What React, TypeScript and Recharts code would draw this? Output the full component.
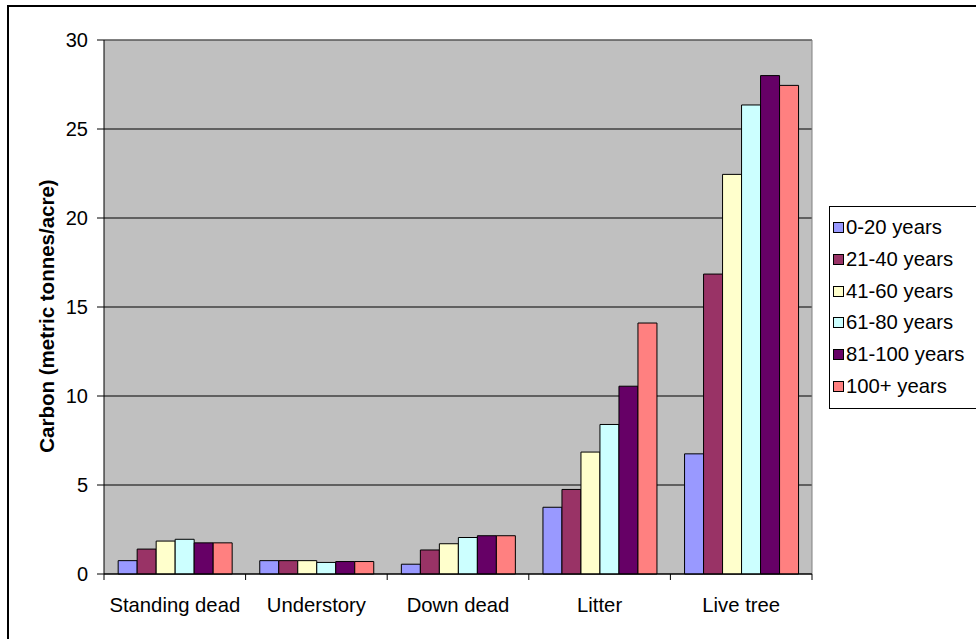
import {
  BarChart,
  Bar,
  XAxis,
  YAxis,
  CartesianGrid,
  Legend,
  Label,
} from 'recharts';

// Carbon pools by stand age class
const categories = ['Standing dead', 'Understory', 'Down dead', 'Litter', 'Live tree'];
const ageClasses = ['0-20 years', '21-40 years', '41-60 years', '61-80 years', '81-100 years', '100+ years'];

const age0to20 = [0.75, 0.75, 0.55, 3.75, 6.75];
const age21to40 = [1.4, 0.75, 1.35, 4.75, 16.85];
const age41to60 = [1.85, 0.75, 1.7, 6.85, 22.45];
const age61to80 = [1.95, 0.65, 2.05, 8.4, 26.35];
const age81to100 = [1.75, 0.7, 2.15, 10.55, 28.0];
const age100plus = [1.75, 0.7, 2.15, 14.1, 27.45];

const yTicks = [0, 5, 10, 15, 20, 25, 30];

const seriesValues = [age0to20, age21to40, age41to60, age61to80, age81to100, age100plus];
const colors = ['#9999FF', '#993366', '#FFFFCC', '#CCFFFF', '#660066', '#FF8080'];

const chartData = categories.map((name, i) => {
  const row: Record<string, string | number> = { name };
  ageClasses.forEach((age, s) => {
    row[age] = seriesValues[s][i];
  });
  return row;
});

const FONT = '"Liberation Sans", Arial, sans-serif';
const WIDTH = 967;
const HEIGHT = 632;
const MARGIN = { top: 33, right: 164, bottom: 25, left: 0 };
const Y_WIDTH = 95;
const bandWidth = (WIDTH - MARGIN.right - MARGIN.left - Y_WIDTH) / categories.length;

// Excel-style category tick: marks sit between categories, label centered
const CategoryTick = (props: any) => {
  const { x, y, payload, index } = props;
  const half = bandWidth / 2;
  return (
    <g>
      <line x1={x - half} y1={y} x2={x - half} y2={y + 6} stroke="#000" />
      {index === categories.length - 1 && (
        <line x1={x + half} y1={y} x2={x + half} y2={y + 6} stroke="#000" />
      )}
      <text x={x} y={y + 38} textAnchor="middle" fontSize={20.3} fontFamily={FONT} fill="#000">
        {payload.value}
      </text>
    </g>
  );
};

const LegendBox = () => (
  <div
    style={{
      width: 150,
      height: 203,
      boxSizing: 'border-box',
      border: '1px solid #000',
      background: '#fff',
      paddingTop: 5,
      fontFamily: FONT,
      fontSize: 20.3,
      color: '#000',
    }}
  >
    {ageClasses.map((age, i) => (
      <div key={age} style={{ height: 31.7, display: 'flex', alignItems: 'center' }}>
        <span
          style={{
            display: 'inline-block',
            width: 9,
            height: 9,
            marginLeft: 3,
            marginRight: 2,
            border: '1px solid #000',
            background: colors[i],
          }}
        />
        <span style={{ whiteSpace: 'nowrap' }}>{age}</span>
      </div>
    ))}
  </div>
);

export default function App() {
  return (
    <div
      style={{
        position: 'absolute',
        left: 7,
        top: 5,
        width: 969,
        height: 634,
        boxSizing: 'border-box',
        borderLeft: '2px solid #000',
        borderTop: '2px solid #000',
        overflow: 'hidden',
        background: '#fff',
      }}
    >
      <BarChart
        width={WIDTH}
        height={HEIGHT}
        data={chartData}
        margin={MARGIN}
        barCategoryGap="10%"
        barGap={0}
      >
        <CartesianGrid vertical={false} fill="#C0C0C0" stroke="#000" />
        <CartesianGrid
          horizontalPoints={[MARGIN.top]}
          verticalPoints={[WIDTH - MARGIN.right]}
          stroke="#808080"
        />
        <XAxis
          dataKey="name"
          height={40}
          axisLine={{ stroke: '#000' }}
          tickLine={false}
          tickSize={0}
          tickMargin={0}
          interval={0}
          tick={<CategoryTick />}
        />
        <YAxis
          width={Y_WIDTH}
          domain={[0, 30]}
          ticks={yTicks}
          interval={0}
          axisLine={{ stroke: '#000' }}
          tickLine={{ stroke: '#000' }}
          tickSize={7}
          tickMargin={9}
          tick={{ fill: '#000', fontSize: 20, fontFamily: FONT }}
        >
          <Label
            content={() => (
              <text
                x={37}
                y={309}
                transform="rotate(-90, 37, 309)"
                textAnchor="middle"
                dominantBaseline="central"
                fontSize={20.5}
                fontWeight="bold"
                fontFamily={FONT}
                fill="#000"
              >
                Carbon (metric tonnes/acre)
              </text>
            )}
          />
        </YAxis>
        <Legend
          layout="vertical"
          align="center"
          verticalAlign="middle"
          wrapperStyle={{ left: 820, top: 199, width: 150, height: 203 }}
          content={() => <LegendBox />}
        />
        {ageClasses.map((age, i) => (
          <Bar
            key={age}
            dataKey={age}
            fill={colors[i]}
            stroke="#000"
            strokeWidth={1}
            isAnimationActive={false}
          />
        ))}
      </BarChart>
    </div>
  );
}
